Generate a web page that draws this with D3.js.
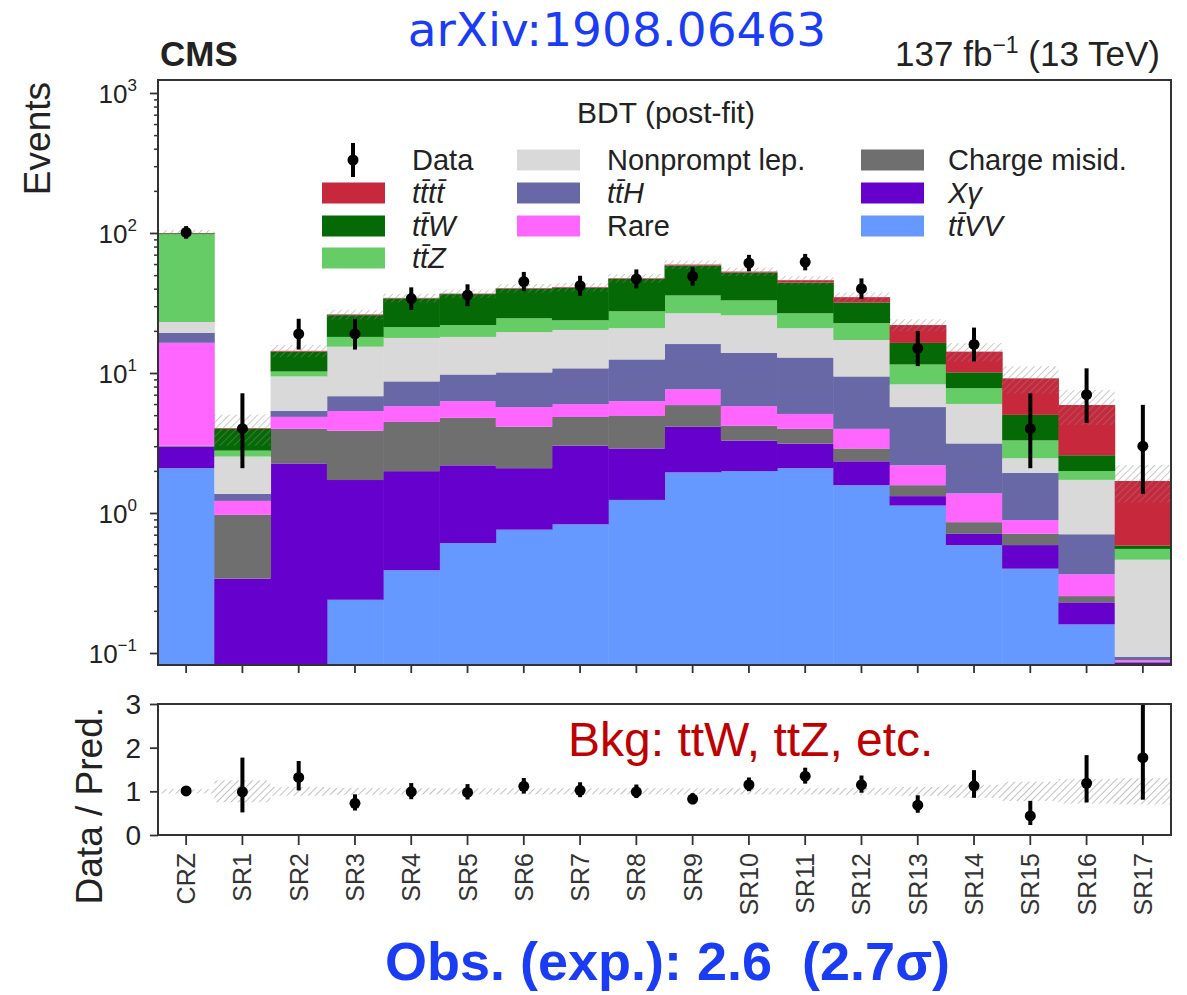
<!DOCTYPE html>
<html>
<head>
<meta charset="utf-8">
<script src="https://cdn.jsdelivr.net/npm/d3@7"></script>
<style>
  body { margin: 0; background: #fff; }
  text { font-family: "Liberation Sans", Arial, Helvetica, sans-serif; }
</style>
</head>
<body>
<svg id="chart" width="1187" height="995"></svg>
<script>
// categories
const bins = ["CRZ", "SR1", "SR2", "SR3", "SR4", "SR5", "SR6", "SR7", "SR8",
  "SR9", "SR10", "SR11", "SR12", "SR13", "SR14", "SR15", "SR16", "SR17"];

// post-fit yields per process
const ttVV        = [2.09, 0.03, 0.03, 0.24, 0.39, 0.61, 0.76, 0.83, 1.24, 1.95, 1.99, 2.09, 1.58, 1.13, 0.59, 0.40, 0.16, 0.02];
const xGamma      = [0.89, 0.31, 2.23, 1.48, 1.60, 1.58, 1.33, 2.20, 1.65, 2.18, 1.30, 1.04, 0.76, 0.19, 0.12, 0.19, 0.07, 0.065];
const chargeMisid = [0.05, 0.63, 1.73, 2.15, 2.48, 2.59, 2.04, 1.82, 2.04, 1.77, 0.90, 0.86, 0.55, 0.26, 0.15, 0.12, 0.025, 0.002];
const rare        = [13.4, 0.25, 0.87, 1.48, 1.33, 1.51, 1.58, 1.15, 1.36, 1.75, 1.61, 1.11, 1.10, 0.61, 0.52, 0.18, 0.11, 0.002];
const ttH         = [2.9, 0.15, 0.49, 1.48, 2.91, 3.47, 4.39, 4.80, 6.21, 8.45, 8.10, 7.80, 5.46, 3.52, 1.76, 1.04, 0.34, 0.005];
const nonprompt   = [3.8, 1.16, 4.10, 8.57, 9.09, 8.34, 9.50, 9.50, 8.40, 10.6, 11.9, 8.00, 7.75, 2.59, 2.87, 0.53, 1.02, 0.37];
const ttZ         = [74.9, 0.26, 0.80, 2.70, 3.50, 3.90, 5.00, 3.50, 6.70, 9.10, 7.20, 5.80, 5.50, 3.20, 1.78, 0.84, 0.27, 0.09];
const ttW         = [1.5, 1.20, 3.95, 7.80, 12.8, 14.6, 15.4, 16.7, 19.4, 22.7, 19.0, 17.5, 9.20, 4.90, 2.32, 1.72, 0.59, 0.03];
const tttt        = [0.5, 0.05, 0.20, 0.30, 0.30, 0.30, 0.40, 0.50, 0.50, 1.00, 1.00, 1.80, 2.90, 5.60, 4.10, 4.14, 3.32, 1.11];

// observed data and its error bars
const dataObs     = [101, 4, 19, 19, 34, 36, 45, 42, 47, 49, 61, 62, 40, 15, 16, 4, 7, 3];
const dataErrDown = [10.0, 1.91, 4.3, 4.3, 5.8, 6.0, 6.7, 6.5, 6.8, 7.0, 7.8, 7.9, 6.3, 3.8, 3.9, 1.91, 2.6, 1.63];
const dataErrUp   = [11.0, 3.16, 5.4, 5.4, 6.9, 7.0, 7.7, 7.5, 7.9, 8.0, 8.8, 8.9, 7.4, 5.0, 5.1, 3.16, 3.8, 2.92];

// relative uncertainty of the prediction (hatched band)
const uncRel = [0.05, 0.25, 0.10, 0.08, 0.07, 0.07, 0.07, 0.07, 0.07, 0.07, 0.07, 0.07, 0.08, 0.10, 0.15, 0.22, 0.28, 0.30];

// tick labels
const yTicksMain = [0.1, 1, 10, 100, 1000];
const yTickExp = ["\u22121", "0", "1", "2", "3"];
const yTicksRatio = [0, 1, 2, 3];

// process table, bottom of stack first
const processes = [
  { key: "ttVV", values: ttVV, color: "#6699ff", label: "tt\u0304VV", italic: true },
  { key: "xGamma", values: xGamma, color: "#6600cc", label: "X\u03b3", italic: true },
  { key: "chargeMisid", values: chargeMisid, color: "#6f6f6f", label: "Charge misid.", italic: false },
  { key: "rare", values: rare, color: "#ff66ff", label: "Rare", italic: false },
  { key: "ttH", values: ttH, color: "#6868a6", label: "tt\u0304H", italic: true },
  { key: "nonprompt", values: nonprompt, color: "#d9d9d9", label: "Nonprompt lep.", italic: false },
  { key: "ttZ", values: ttZ, color: "#66cc66", label: "tt\u0304Z", italic: true },
  { key: "ttW", values: ttW, color: "#056a05", label: "tt\u0304W", italic: true },
  { key: "tttt", values: tttt, color: "#c8283c", label: "tt\u0304tt\u0304", italic: true }
];

const rows = bins.map((b, i) => {
  const r = { bin: b };
  processes.forEach(p => { r[p.key] = p.values[i]; });
  return r;
});
const series = d3.stack().keys(processes.map(p => p.key))(rows);
const totals = rows.map((r, i) => d3.sum(processes, p => p.values[i]));

const svg = d3.select("#chart");

// frame geometry
const L = 158, R = 1171, mainTop = 80, mainBot = 665, ratTop = 704, ratBot = 835;

const x = d3.scaleBand().domain(bins).range([L, R]).padding(0);
const y = d3.scaleLog().domain([0.0821, 1238]).range([mainBot, mainTop]);
const yr = d3.scaleLinear().domain([0, 3]).range([ratBot, ratTop]);
const cx = b => x(b) + x.bandwidth() / 2;

const defs = svg.append("defs");
defs.append("clipPath").attr("id", "clipMain")
  .append("rect").attr("x", L).attr("y", mainTop).attr("width", R - L).attr("height", mainBot - mainTop);
defs.append("clipPath").attr("id", "clipRatio")
  .append("rect").attr("x", L).attr("y", ratTop).attr("width", R - L).attr("height", ratBot - ratTop);
const pat = defs.append("pattern").attr("id", "hatch")
  .attr("patternUnits", "userSpaceOnUse").attr("width", 5).attr("height", 5)
  .attr("patternTransform", "rotate(45)");
pat.append("line").attr("x1", 0).attr("y1", 0).attr("x2", 0).attr("y2", 5)
  .attr("stroke", "#8a8a8a").attr("stroke-width", 1.4);

// ---------- main panel ----------
const main = svg.append("g").attr("clip-path", "url(#clipMain)");

main.selectAll("g.layer")
  .data(series)
  .join("g")
  .attr("class", "layer")
  .attr("fill", (s, i) => processes[i].color)
  .selectAll("rect")
  .data(s => s)
  .join("rect")
  .attr("x", d => x(d.data.bin))
  .attr("width", x.bandwidth() + 0.5)
  .attr("y", d => y(Math.max(d[1], 1e-4)))
  .attr("height", d => Math.max(0, y(Math.max(d[0], 1e-4)) - y(Math.max(d[1], 1e-4))));

main.selectAll("rect.unc")
  .data(bins)
  .join("rect")
  .attr("class", "unc")
  .attr("x", b => x(b))
  .attr("width", x.bandwidth())
  .attr("y", (b, i) => y(totals[i] * (1 + uncRel[i])))
  .attr("height", (b, i) => y(totals[i] * (1 - uncRel[i])) - y(totals[i] * (1 + uncRel[i])))
  .attr("fill", "url(#hatch)")
  .attr("opacity", 0.65);

main.selectAll("line.err")
  .data(bins)
  .join("line")
  .attr("class", "err")
  .attr("x1", cx).attr("x2", cx)
  .attr("y1", (b, i) => y(dataObs[i] - dataErrDown[i]))
  .attr("y2", (b, i) => y(dataObs[i] + dataErrUp[i]))
  .attr("stroke", "#000").attr("stroke-width", 4);
main.selectAll("circle.pt")
  .data(bins)
  .join("circle")
  .attr("class", "pt")
  .attr("cx", cx)
  .attr("cy", (b, i) => y(dataObs[i]))
  .attr("r", 5.5)
  .attr("fill", "#000");

// axes of main panel
const minorTicks = [];
yTicksMain.slice(0, -1).forEach(t => { for (let k = 2; k <= 9; k++) minorTicks.push(t * k); });
svg.append("g").attr("transform", `translate(${L},0)`)
  .call(d3.axisLeft(y).tickValues(minorTicks).tickSize(4).tickFormat(""))
  .call(g => g.select(".domain").remove())
  .call(g => g.selectAll("line").attr("stroke", "#333").attr("stroke-width", 1.5));
svg.append("g").attr("transform", `translate(${L},0)`)
  .call(d3.axisLeft(y).tickValues(yTicksMain).tickSize(8).tickFormat(""))
  .call(g => g.select(".domain").remove())
  .call(g => g.selectAll("line").attr("stroke", "#333").attr("stroke-width", 1.8));
svg.append("g").attr("transform", `translate(0,${mainBot})`)
  .call(d3.axisBottom(x).tickSize(8).tickFormat(""))
  .call(g => g.select(".domain").remove())
  .call(g => g.selectAll("line").attr("stroke", "#333").attr("stroke-width", 1.8));

const yl = svg.append("g").selectAll("text")
  .data(yTicksMain)
  .join("text")
  .attr("x", 137)
  .attr("y", d => y(d) + 10)
  .attr("text-anchor", "end")
  .attr("font-size", 26)
  .attr("fill", "#222");
yl.append("tspan").text("10");
yl.append("tspan").attr("dy", -12).attr("font-size", 17).text((d, i) => yTickExp[i]);

svg.append("rect").attr("x", L).attr("y", mainTop).attr("width", R - L).attr("height", mainBot - mainTop)
  .attr("fill", "none").attr("stroke", "#333").attr("stroke-width", 2);

svg.append("text")
  .attr("transform", "translate(50,82) rotate(-90)")
  .attr("text-anchor", "end")
  .attr("font-size", 37)
  .attr("fill", "#222")
  .text("Events");

// legend
svg.append("text").attr("x", 666).attr("y", 123).attr("text-anchor", "middle")
  .attr("font-size", 30).attr("fill", "#222").text("BDT (post-fit)");

const legendSlots = {
  tttt: [0, 1], ttW: [0, 2], ttZ: [0, 3],
  nonprompt: [1, 0], ttH: [1, 1], rare: [1, 2],
  chargeMisid: [2, 0], xGamma: [2, 1], ttVV: [2, 2]
};
const colSwatchX = [322, 517, 861], colTextX = [412, 607, 948];
const rowY = [160, 193, 226, 258];
const leg = svg.append("g");
processes.forEach(p => {
  const [c, r] = legendSlots[p.key];
  leg.append("rect").attr("x", colSwatchX[c]).attr("y", rowY[r] - 10.5)
    .attr("width", 63).attr("height", 21).attr("fill", p.color);
  leg.append("text").attr("x", colTextX[c]).attr("y", rowY[r] + 10)
    .attr("font-size", 29).attr("fill", "#222")
    .attr("font-style", p.italic ? "italic" : "normal")
    .text(p.label);
});
leg.append("line").attr("x1", 353).attr("x2", 353).attr("y1", rowY[0] - 17).attr("y2", rowY[0] + 17)
  .attr("stroke", "#000").attr("stroke-width", 4);
leg.append("circle").attr("cx", 353).attr("cy", rowY[0]).attr("r", 5.5).attr("fill", "#000");
leg.append("text").attr("x", colTextX[0]).attr("y", rowY[0] + 10)
  .attr("font-size", 29).attr("fill", "#222").text("Data");

// ---------- ratio panel ----------
const rat = svg.append("g").attr("clip-path", "url(#clipRatio)");
rat.selectAll("rect.unc")
  .data(bins)
  .join("rect")
  .attr("x", b => x(b))
  .attr("width", x.bandwidth())
  .attr("y", (b, i) => yr(1 + uncRel[i]))
  .attr("height", (b, i) => yr(1 - uncRel[i]) - yr(1 + uncRel[i]))
  .attr("fill", "url(#hatch)")
  .attr("opacity", 0.75);
rat.selectAll("line.err")
  .data(bins)
  .join("line")
  .attr("x1", cx).attr("x2", cx)
  .attr("y1", (b, i) => yr((dataObs[i] - dataErrDown[i]) / totals[i]))
  .attr("y2", (b, i) => yr((dataObs[i] + dataErrUp[i]) / totals[i]))
  .attr("stroke", "#000").attr("stroke-width", 4);
rat.selectAll("circle")
  .data(bins)
  .join("circle")
  .attr("cx", cx)
  .attr("cy", (b, i) => yr(dataObs[i] / totals[i]))
  .attr("r", 5.5)
  .attr("fill", "#000");

svg.append("g").attr("transform", `translate(${L},0)`)
  .call(d3.axisLeft(yr).tickValues(yTicksRatio).tickSize(8).tickFormat(""))
  .call(g => g.select(".domain").remove())
  .call(g => g.selectAll("line").attr("stroke", "#333").attr("stroke-width", 1.8));
svg.append("g").attr("transform", `translate(0,${ratBot})`)
  .call(d3.axisBottom(x).tickSize(10).tickFormat(""))
  .call(g => g.select(".domain").remove())
  .call(g => g.selectAll("line").attr("stroke", "#333").attr("stroke-width", 1.8));

svg.append("g").selectAll("text")
  .data(yTicksRatio)
  .join("text")
  .attr("x", 141)
  .attr("y", d => yr(d) + 10)
  .attr("text-anchor", "end")
  .attr("font-size", 28)
  .attr("fill", "#222")
  .text(d => d);

svg.append("g").selectAll("text")
  .data(bins)
  .join("text")
  .attr("transform", b => `translate(${cx(b) + 9},853) rotate(-90)`)
  .attr("text-anchor", "end")
  .attr("font-size", 25)
  .attr("fill", "#333")
  .text(b => b);

svg.append("rect").attr("x", L).attr("y", ratTop).attr("width", R - L).attr("height", ratBot - ratTop)
  .attr("fill", "none").attr("stroke", "#333").attr("stroke-width", 2);

svg.append("text")
  .attr("transform", "translate(102,707) rotate(-90)")
  .attr("text-anchor", "end")
  .attr("font-size", 37)
  .attr("fill", "#222")
  .text("Data / Pred.");

svg.append("text").attr("x", 568).attr("y", 756)
  .attr("font-size", 48).attr("fill", "#c00000")
  .text("Bkg: ttW, ttZ, etc.");

// ---------- headers ----------
svg.append("text").attr("x", 160).attr("y", 66)
  .attr("font-size", 35).attr("font-weight", "bold").attr("fill", "#222").text("CMS");
const lumi = svg.append("text").attr("x", 1160).attr("y", 66).attr("text-anchor", "end")
  .attr("font-size", 35).attr("fill", "#222");
lumi.append("tspan").text("137 fb");
lumi.append("tspan").attr("dy", -13).attr("font-size", 23).text("\u22121");
lumi.append("tspan").attr("dy", 13).text(" (13 TeV)");

svg.append("text").attr("x", 617).attr("y", 46).attr("text-anchor", "middle")
  .style("font-family", "'DejaVu Sans', sans-serif")
  .attr("font-size", 47).attr("fill", "#1a3cf5")
  .text("arXiv:1908.06463");

svg.append("text").attr("x", 385).attr("y", 980)
  .style("white-space", "pre")
  .attr("font-size", 54).attr("font-weight", "bold").attr("fill", "#1a3cf5")
  .text("Obs. (exp.): 2.6  (2.7\u03c3)");
</script>
</body>
</html>
